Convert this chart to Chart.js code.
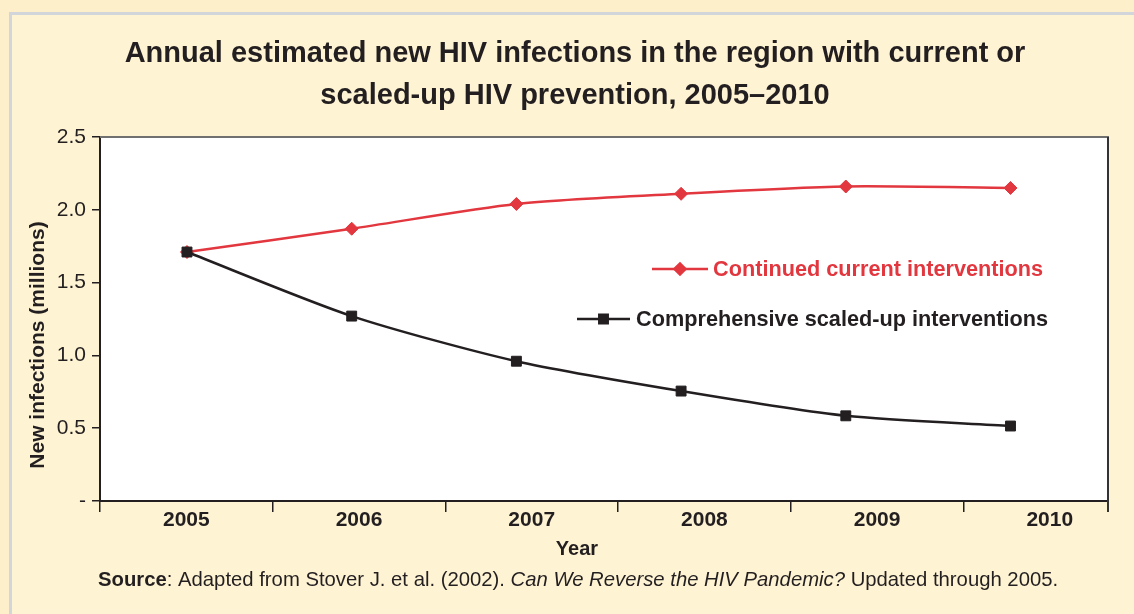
<!DOCTYPE html>
<html><head><meta charset="utf-8">
<script src="https://cdn.jsdelivr.net/npm/chart.js@4.4.0/dist/chart.umd.min.js"></script>
<style>
html,body{margin:0;padding:0;width:1134px;height:614px;overflow:hidden;background:#fcefca;}
#box{position:absolute;left:9px;top:12px;width:1200px;height:700px;border-left:3px solid #d2d6da;border-top:3px solid #d2d6da;background:#fef3d3;}
#wrap{position:absolute;left:0;top:0;width:1134px;height:614px;}
</style></head><body><div id="box"></div><div id="wrap"><canvas id="c" width="1134" height="614"></canvas></div>
<script>
// ---- data ----
const years = [2005, 2006, 2007, 2008, 2009, 2010];
const yearLabels = ['2005', '2006', '2007', '2008', '2009', '2010'];
const continuedCurrent = [1.71, 1.87, 2.04, 2.11, 2.16, 2.15];
const scaledUp = [1.71, 1.27, 0.96, 0.755, 0.585, 0.515];
const yTickValues = [0, 0.5, 1.0, 1.5, 2.0, 2.5];
const yTickLabels = ['-', '0.5', '1.0', '1.5', '2.0', '2.5'];
const seriesNames = ['Continued current interventions', 'Comprehensive scaled-up interventions'];
const titleLines = ['Annual estimated new HIV infections in the region with current or', 'scaled-up HIV prevention, 2005\u20132010'];
const yTitle = 'New infections (millions)';
const xTitle = 'Year';

const FONT = "'Liberation Sans', Arial, Helvetica, sans-serif";
const INK = '#231f20';
const RED = '#e2373f';

const decor = {
  id: 'decor',
  beforeDraw(chart) {
    const {ctx, chartArea: a} = chart;
    ctx.save();
    ctx.fillStyle = '#ffffff';
    ctx.fillRect(a.left, a.top, a.right - a.left, a.bottom - a.top);
    ctx.restore();
  },
  afterDraw(chart) {
    const {ctx, chartArea: a} = chart;
    ctx.save();
    ctx.lineWidth = 2;
    ctx.strokeStyle = '#707070';
    ctx.beginPath(); ctx.moveTo(a.left, a.top); ctx.lineTo(a.right + 1, a.top); ctx.stroke();
    ctx.strokeStyle = '#333333';
    ctx.beginPath(); ctx.moveTo(a.right, a.top); ctx.lineTo(a.right, a.bottom + 11); ctx.stroke();

    // legend
    const ds = chart.data.datasets;
    const items = [
      {ds: ds[0], x0: 652, x1: 708, y: 269, tx: 713},
      {ds: ds[1], x0: 577, x1: 630, y: 319, tx: 636}
    ];
    items.forEach(it => {
      ctx.strokeStyle = it.ds.borderColor;
      ctx.lineWidth = it.ds.borderWidth;
      ctx.beginPath(); ctx.moveTo(it.x0, it.y); ctx.lineTo(it.x1, it.y); ctx.stroke();
      ctx.fillStyle = it.ds.pointBackgroundColor;
      ctx.strokeStyle = it.ds.pointBorderColor;
      Chart.helpers.drawPoint(ctx, {pointStyle: it.ds.pointStyle, radius: it.ds.pointRadius * 0.85, borderWidth: 1, rotation: 0}, (it.x0 + it.x1) / 2, it.y);
      ctx.fillStyle = it.ds.borderColor;
      ctx.font = 'bold 21.7px ' + FONT;
      ctx.textAlign = 'left';
      ctx.textBaseline = 'middle';
      ctx.fillText(it.ds.label, it.tx, it.y + 1);
    });

    // axis titles
    ctx.fillStyle = INK;
    ctx.font = 'bold 20px ' + FONT;
    ctx.textAlign = 'center';
    ctx.textBaseline = 'middle';
    ctx.fillText(xTitle, 577, 549);
    ctx.save();
    ctx.translate(38, 345);
    ctx.rotate(-Math.PI / 2);
    ctx.font = 'bold 21px ' + FONT;
    ctx.fillText(yTitle, 0, 0);
    ctx.restore();

    // source line
    const parts = [
      ['bold', 'Source'],
      ['normal', ': Adapted from Stover J. et al. (2002). '],
      ['italic', 'Can We Reverse the HIV Pandemic?'],
      ['normal', ' Updated through 2005.']
    ];
    let x = 98;
    ctx.textAlign = 'left';
    parts.forEach(([st, t]) => {
      ctx.font = st + ' 20.3px ' + FONT;
      ctx.fillText(t, x, 580);
      x += ctx.measureText(t).width;
    });
    ctx.restore();
  }
};

new Chart(document.getElementById('c'), {
  type: 'line',
  data: {
    datasets: [
      {
        label: seriesNames[0],
        data: years.map((yr, i) => ({x: yr, y: continuedCurrent[i]})),
        borderColor: RED, backgroundColor: RED,
        pointBackgroundColor: RED, pointBorderColor: RED,
        pointStyle: 'rectRot', pointRadius: 6.5, pointBorderWidth: 1,
        borderWidth: 2.5, tension: 0.25, order: 1, xAxisID: 'x', yAxisID: 'y'
      },
      {
        label: seriesNames[1],
        data: years.map((yr, i) => ({x: yr, y: scaledUp[i]})),
        borderColor: INK, backgroundColor: INK,
        pointBackgroundColor: INK, pointBorderColor: INK,
        pointStyle: 'rect', pointRadius: 7, pointBorderWidth: 1,
        borderWidth: 2.5, tension: 0.25, order: 0, xAxisID: 'x', yAxisID: 'y'
      }
    ]
  },
  options: {
    responsive: false,
    animation: false,
    devicePixelRatio: 1,
    layout: {padding: {left: 42, right: 26, top: 0, bottom: 0}},
    plugins: {
      legend: {display: false},
      tooltip: {enabled: false},
      title: {
        display: true,
        text: titleLines,
        color: INK,
        font: {family: FONT, size: 29, weight: 'bold', lineHeight: 42 / 29},
        padding: {top: 33, bottom: 20}
      }
    },
    scales: {
      x: {
        type: 'linear', display: false,
        min: 2004.4718, max: 2010.592
      },
      xl: {
        type: 'linear', position: 'bottom',
        min: -0.5, max: 5.337,
        afterBuildTicks: (axis) => { axis.ticks = yearLabels.map((_, i) => ({value: i})); },
        afterFit: (axis) => { axis.height = 113; },
        grid: {display: true, drawOnChartArea: false, drawTicks: true, tickLength: 11, offset: true, color: INK, lineWidth: 1.5},
        border: {display: true, color: INK, width: 2},
        ticks: {
          autoSkip: false, maxRotation: 0, padding: -4, color: INK,
          font: {family: FONT, size: 21, weight: 'bold'},
          callback: (v, i) => yearLabels[i]
        }
      },
      y: {
        type: 'linear', position: 'left',
        min: 0, max: 2.5,
        afterBuildTicks: (axis) => { axis.ticks = yTickValues.map(v => ({value: v})); },
        afterFit: (axis) => { axis.width = 58; },
        grid: {display: true, drawOnChartArea: false, drawTicks: true, tickLength: 8, color: INK, lineWidth: 1.5},
        border: {display: true, color: INK, width: 2},
        ticks: {
          autoSkip: false, padding: 6, color: INK,
          font: {family: FONT, size: 21},
          callback: (v, i) => yTickLabels[i]
        }
      }
    }
  },
  plugins: [decor]
});
</script>
</body></html>
